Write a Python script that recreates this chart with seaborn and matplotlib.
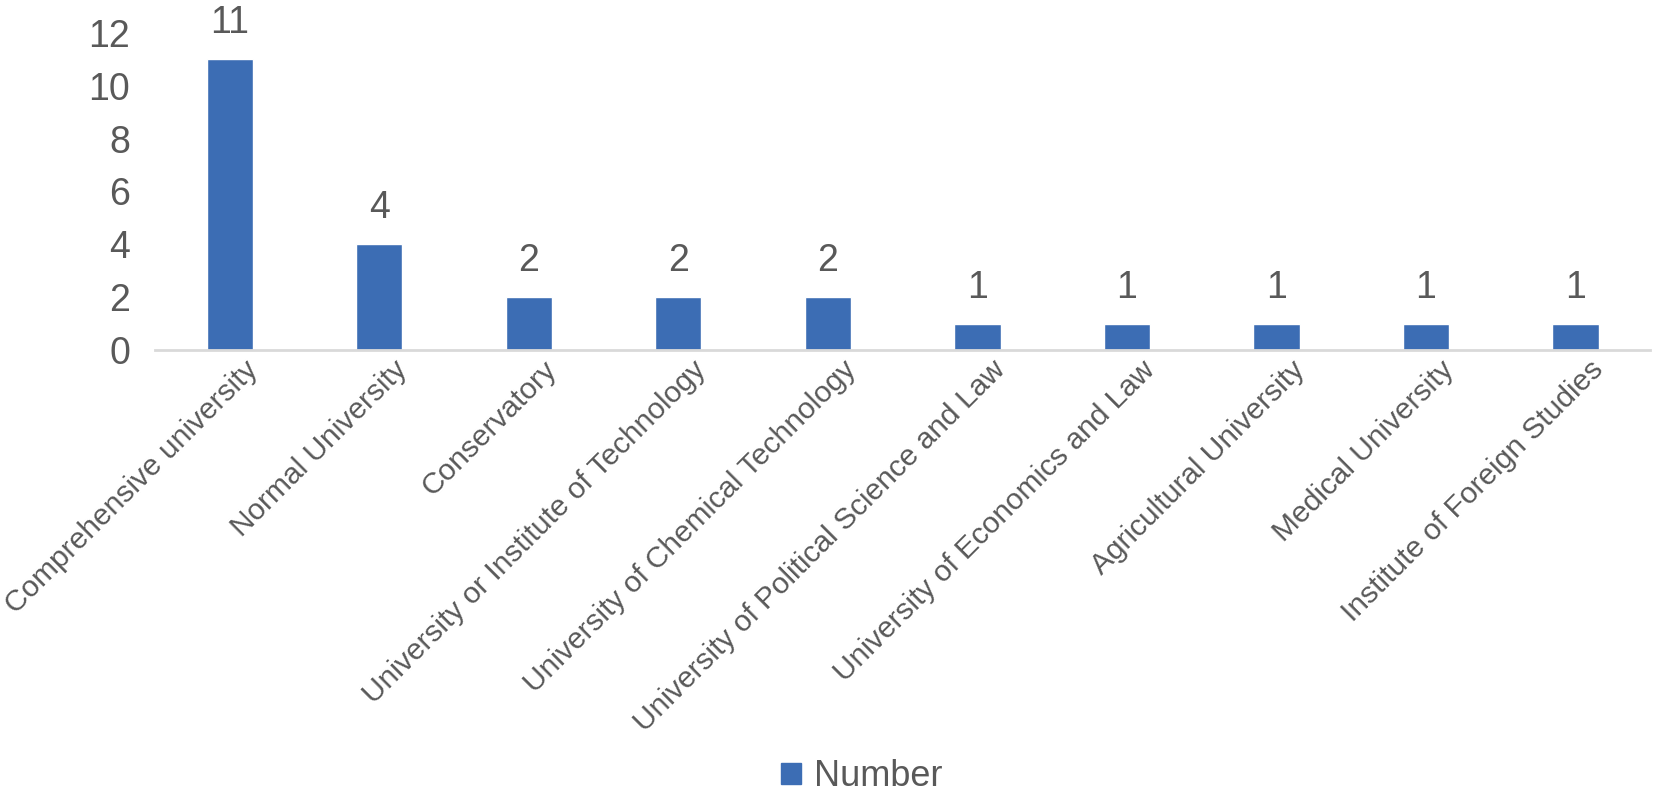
import matplotlib
matplotlib.use("Agg")
import matplotlib.pyplot as plt
import matplotlib.transforms as mtransforms
import seaborn as sns
import pandas as pd
from matplotlib.patches import Patch

categories = [
    "Comprehensive university",
    "Normal University",
    "Conservatory",
    "University or Institute of Technology",
    "University of Chemical Technology",
    "University of Political Science and Law",
    "University of Economics and Law",
    "Agricultural University",
    "Medical University",
    "Institute of Foreign Studies",
]
values = [11, 4, 2, 2, 2, 1, 1, 1, 1, 1]
series_name = "Number"
yticks = [0, 2, 4, 6, 8, 10, 12]

sns.set_theme(style="white")
plt.rcParams["font.family"] = ["Liberation Sans", "DejaVu Sans"]

BAR = "#3C6DB4"
TXT = "#595959"

df = pd.DataFrame({"category": categories, "value": values})

fig = plt.figure(figsize=(16.54, 8), dpi=100)
ax = fig.add_axes([0.0937, 0.5625, 0.904, 0.3963])
sns.barplot(data=df, x="category", y="value", color=BAR, width=0.31,
            saturation=1, ax=ax)

ax.set_ylim(0, 12)
ax.set_xlim(-0.5, len(categories) - 0.5)
ax.set_yticks(yticks)
ax.set_yticklabels([str(t) for t in yticks], fontsize=27, color=TXT)
ax.tick_params(axis="y", length=0, pad=18)
ax.tick_params(axis="x", length=0, pad=4)
ax.set_xticks(range(len(categories)))
ax.set_xticklabels(categories, rotation=45, ha="right", va="top",
                   rotation_mode="anchor", fontsize=21.5, color=TXT)
offset = mtransforms.ScaledTranslation(10 / 72, 0, fig.dpi_scale_trans)
for lab in ax.get_xticklabels():
    lab.set_transform(lab.get_transform() + offset)
ax.set_xlabel("")
ax.set_ylabel("")
for s in ["top", "right", "left"]:
    ax.spines[s].set_visible(False)
ax.spines["bottom"].set_color("#D9D9D9")
ax.spines["bottom"].set_linewidth(2)

ax.bar_label(ax.containers[0], labels=[str(v) for v in values],
             padding=13, fontsize=27, color=TXT)

handle = Patch(facecolor=BAR, edgecolor=BAR)
fig.legend([handle], [series_name], loc="center", bbox_to_anchor=(0.521, 0.029),
           frameon=False, fontsize=26, labelcolor=TXT,
           handlelength=0.55, handleheight=0.55, handletextpad=0.35)

fig.savefig("out.png", dpi=100, facecolor="white")
